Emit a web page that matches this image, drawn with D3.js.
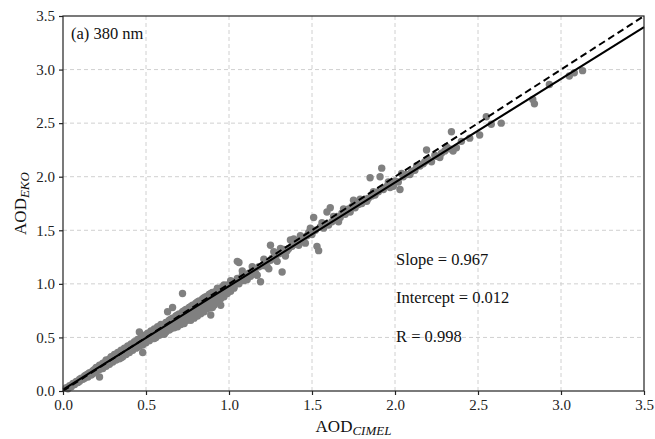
<!DOCTYPE html>
<html><head><meta charset="utf-8">
<script src="https://cdn.jsdelivr.net/npm/d3@7"></script>
<style>body{margin:0;background:#fff;} svg{display:block;}</style>
</head><body>
<script>
// AOD CIMEL (x) and AOD EKO (y)
const cimel = [0.02,0.03,0.04,0.05,0.06,0.07,0.08,0.09,0.10,0.10,0.11,0.12,0.13,0.13,0.14,0.15,0.15,0.16,0.17,0.18,0.18,0.19,0.20,0.20,0.21,0.22,0.22,0.23,0.24,0.24,0.25,0.26,0.26,0.27,0.28,0.28,0.29,0.30,0.30,0.31,0.32,0.32,0.33,0.34,0.34,0.35,0.36,0.36,0.37,0.38,0.38,0.39,0.40,0.40,0.41,0.42,0.42,0.43,0.44,0.44,0.45,0.46,0.46,0.47,0.48,0.48,0.49,0.50,0.50,0.51,0.52,0.52,0.53,0.54,0.54,0.55,0.56,0.56,0.57,0.58,0.58,0.59,0.60,0.60,
0.61,0.62,0.62,0.63,0.64,0.64,0.65,0.66,0.66,0.67,0.68,0.68,0.69,0.70,0.70,0.71,0.72,0.72,0.73,0.74,0.74,0.75,0.76,0.76,0.77,0.78,0.78,0.79,0.80,0.80,0.81,0.82,0.82,0.83,0.84,0.84,0.85,0.86,0.86,0.87,0.88,0.88,0.89,0.90,0.90,0.91,0.92,0.92,0.93,0.94,0.94,0.95,0.96,0.97,0.98,0.99,1.00,1.01,1.02,1.03,1.04,1.05,1.06,1.07,1.08,1.09,1.10,
0.22,0.48,0.46,0.63,0.66,0.72,0.89,0.95,0.90,1.05,1.06,
1.12,1.13,1.15,1.16,1.18,1.19,1.20,1.22,1.23,1.25,1.25,1.26,1.28,1.29,1.30,1.32,1.32,1.33,1.35,1.36,1.37,1.38,1.40,1.41,1.42,1.44,1.45,1.47,1.49,1.50,1.51,1.52,1.53,1.54,1.55,1.57,1.58,1.59,1.60,1.61,1.62,1.64,1.65,1.67,1.68,1.70,1.72,1.73,1.75,1.76,1.78,1.80,1.82,1.83,1.85,1.86,1.88,1.90,1.91,1.92,1.93,1.95,1.97,1.99,2.00,2.02,2.03,2.05,2.07,2.10,2.12,2.15,2.17,2.19,2.20,2.22,2.25,2.28,2.30,2.33,2.34,2.37,2.40,2.45,2.51,2.55,2.58,2.64,2.83,2.84,2.93,3.05,3.08,3.13,
0.26,0.29,0.31,0.33,0.35,0.37,0.39,0.41,0.43,0.45,0.47,0.49,0.51,0.53,0.55,0.57,0.59,0.35,0.45,0.55,0.59,
0.61,0.63,0.65,0.67,0.69,0.71,0.73,0.75,0.77,0.79,0.81,0.83,0.85,0.87,0.89,0.91,0.93,0.95,0.97,0.99,1.01,1.03,
0.65,0.69,0.73,0.77,0.81,0.85,0.89,0.93,0.97,1.01,
1.08,1.11,1.14,1.17,1.21,1.24,1.27,1.31,1.34,1.39,1.43,1.46,1.48,1.56,1.63,1.66,1.69,1.74,1.79,1.84,1.87,1.96,2.04,2.09,2.13,2.18,2.24,2.27,2.31,2.35];
const eko = [0.03,0.02,0.05,0.04,0.07,0.06,0.09,0.08,0.11,0.09,0.12,0.11,0.14,0.12,0.15,0.13,0.16,0.17,0.15,0.19,0.16,0.20,0.18,0.22,0.21,0.20,0.24,0.22,0.26,0.21,0.25,0.28,0.23,0.27,0.30,0.25,0.29,0.32,0.27,0.31,0.34,0.29,0.33,0.36,0.30,0.35,0.37,0.32,0.36,0.39,0.34,0.38,0.41,0.36,0.40,0.43,0.38,0.42,0.45,0.40,0.44,0.47,0.42,0.46,0.49,0.43,0.48,0.51,0.45,0.50,0.53,0.47,0.52,0.55,0.49,0.54,0.57,0.50,0.56,0.59,0.52,0.58,0.61,0.55,
0.60,0.64,0.55,0.62,0.66,0.57,0.63,0.68,0.60,0.65,0.70,0.61,0.67,0.72,0.63,0.69,0.74,0.64,0.70,0.76,0.66,0.73,0.78,0.68,0.75,0.80,0.70,0.77,0.82,0.72,0.79,0.84,0.74,0.81,0.86,0.76,0.83,0.88,0.78,0.85,0.90,0.80,0.87,0.92,0.82,0.89,0.93,0.84,0.91,0.95,0.87,0.93,0.97,0.90,0.96,0.99,0.94,0.99,1.02,0.97,1.02,1.05,1.00,1.05,1.08,1.03,1.08,
0.13,0.36,0.55,0.74,0.78,0.91,0.71,0.80,0.78,1.21,1.20,
1.10,1.07,1.13,1.10,1.16,1.02,1.17,1.19,1.16,1.22,1.36,1.24,1.25,1.21,1.28,1.11,1.29,1.32,1.31,1.33,1.41,1.35,1.37,1.39,1.36,1.40,1.42,1.45,1.52,1.46,1.62,1.50,1.35,1.31,1.53,1.52,1.56,1.67,1.55,1.71,1.58,1.60,1.63,1.62,1.66,1.65,1.70,1.67,1.78,1.71,1.74,1.75,1.79,1.77,1.99,1.82,1.83,1.86,2.00,2.08,1.88,1.91,1.90,1.91,1.96,1.95,1.88,2.00,2.02,2.05,2.06,2.10,2.12,2.25,2.16,2.14,2.19,2.22,2.24,2.26,2.42,2.27,2.33,2.36,2.39,2.56,2.49,2.50,2.72,2.68,2.86,2.94,2.97,2.99,
0.29,0.32,0.34,0.36,0.38,0.40,0.42,0.44,0.46,0.48,0.50,0.52,0.54,0.56,0.58,0.60,0.62,0.31,0.41,0.49,0.53,
0.53,0.58,0.58,0.59,0.60,0.62,0.63,0.66,0.66,0.68,0.70,0.72,0.74,0.77,0.78,0.80,0.83,0.86,0.88,0.91,0.93,0.96,
0.67,0.71,0.75,0.79,0.83,0.87,0.91,0.96,0.99,1.03,
1.12,1.04,1.16,1.08,1.23,1.14,1.30,1.33,1.26,1.42,1.45,1.38,1.48,1.57,1.63,1.58,1.70,1.72,1.79,1.80,1.86,1.95,2.03,2.02,2.10,2.14,2.20,2.18,2.28,2.24];
const ticks = [0.0,0.5,1.0,1.5,2.0,2.5,3.0,3.5];
const fitSlope = 0.967, fitIntercept = 0.012, fitR = 0.998;
const panelLabel = "(a) 380 nm";

const W = 655, H = 439;
const m = {left:63, right:11, top:16, bottom:48};
const svg = d3.select("body").append("svg").attr("width",W).attr("height",H);
const x = d3.scaleLinear().domain([0,3.5]).range([m.left, W-m.right]);
const y = d3.scaleLinear().domain([0,3.5]).range([H-m.bottom, m.top]);
const font = "'Liberation Serif','Times New Roman',serif";

// grid
const g = svg.append("g");
g.selectAll(".vg").data(ticks.slice(1,-1)).enter().append("line")
  .attr("x1",d=>x(d)).attr("x2",d=>x(d)).attr("y1",y(0)).attr("y2",y(3.5))
  .attr("stroke","#d0d0d0").attr("stroke-width",1).attr("stroke-dasharray","4,3");
g.selectAll(".hg").data(ticks.slice(1,-1)).enter().append("line")
  .attr("y1",d=>y(d)).attr("y2",d=>y(d)).attr("x1",x(0)).attr("x2",x(3.5))
  .attr("stroke","#d0d0d0").attr("stroke-width",1).attr("stroke-dasharray","4,3");

// points
svg.append("g").selectAll("circle").data(cimel.map((c,i)=>[c,eko[i]])).enter().append("circle")
  .attr("cx",d=>x(d[0])).attr("cy",d=>y(d[1])).attr("r",3.7).attr("fill","#808080");

// 1:1 line (dashed)
svg.append("line").attr("x1",x(0)).attr("y1",y(0)).attr("x2",x(3.5)).attr("y2",y(3.5))
  .attr("stroke","#000").attr("stroke-width",2).attr("stroke-dasharray","7,4");
// fit line
svg.append("line").attr("x1",x(0)).attr("y1",y(fitIntercept)).attr("x2",x(3.5)).attr("y2",y(fitIntercept+fitSlope*3.5))
  .attr("stroke","#000").attr("stroke-width",2);

// axes
const fmt = d3.format(".1f");
const xa = svg.append("g").attr("transform",`translate(0,${y(0)})`)
  .call(d3.axisBottom(x).tickValues(ticks).tickFormat(fmt).tickSize(4).tickSizeOuter(0));
const ya = svg.append("g").attr("transform",`translate(${x(0)},0)`)
  .call(d3.axisLeft(y).tickValues(ticks).tickFormat(fmt).tickSize(4).tickSizeOuter(0));
[xa,ya].forEach(a=>{
  a.select(".domain").remove();
  a.selectAll(".tick line").attr("stroke","#222").attr("stroke-width",1.2);
  a.selectAll(".tick text").attr("font-family",font).attr("font-size",15).attr("fill","#222");
});
xa.selectAll(".tick text").attr("dy","0.71em").attr("y",8);
ya.selectAll(".tick text").attr("x",-8);

// frame
svg.append("rect").attr("x",x(0)).attr("y",y(3.5)).attr("width",x(3.5)-x(0)).attr("height",y(0)-y(3.5))
  .attr("fill","none").attr("stroke","#222").attr("stroke-width",1.2);

// annotations
svg.append("text").attr("x",71).attr("y",39).attr("font-family",font).attr("font-size",16.5).attr("fill","#111").text(panelLabel);
const ann = [["Slope = "+fitSlope.toFixed(3),265],["Intercept = "+fitIntercept.toFixed(3),303],["R = "+fitR.toFixed(3),342]];
svg.selectAll(".ann").data(ann).enter().append("text").attr("x",396).attr("y",d=>d[1])
  .attr("font-family",font).attr("font-size",16.5).attr("fill","#111").text(d=>d[0]);

// axis labels
const xl = svg.append("text").attr("x",(x(0)+x(3.5))/2).attr("y",432).attr("text-anchor","middle")
  .attr("font-family",font).attr("font-size",17).attr("fill","#111");
xl.append("tspan").text("AOD");
xl.append("tspan").attr("font-style","italic").attr("font-size",13).attr("dy",3).text("CIMEL");
const yl = svg.append("text").attr("transform",`translate(26,${(y(0)+y(3.5))/2}) rotate(-90)`).attr("text-anchor","middle")
  .attr("font-family",font).attr("font-size",17).attr("fill","#111");
yl.append("tspan").text("AOD");
yl.append("tspan").attr("font-style","italic").attr("font-size",13).attr("dy",3).text("EKO");
</script>
</body></html>
